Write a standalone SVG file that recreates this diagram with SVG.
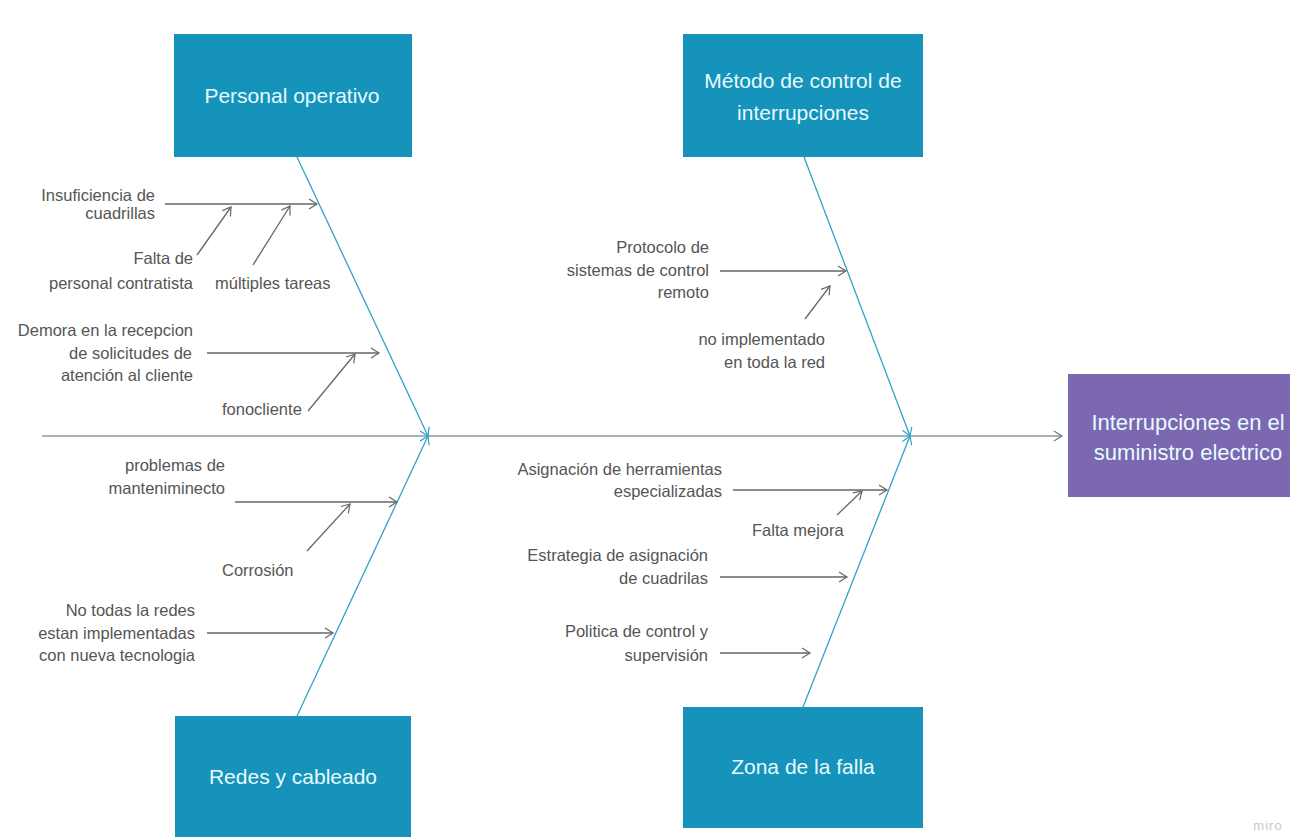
<svg xmlns="http://www.w3.org/2000/svg" width="1290" height="837" viewBox="0 0 1290 837">
<style>
.box{fill:#1593ba}
.eff{fill:#7c68b0}
.bt{font-family:"Liberation Sans",Arial,sans-serif;font-size:21px;fill:#e6fbff;text-anchor:middle}
.t{font-family:"Liberation Sans",Arial,sans-serif;font-size:16.5px;fill:#555}
.r{text-anchor:end}
.bone{stroke:#2fa3c8;stroke-width:1.3;fill:none}
.sub{stroke:#666;stroke-width:1.3;fill:none}
</style>
<defs>
<marker id="ab" markerUnits="userSpaceOnUse" markerWidth="14" markerHeight="14" refX="10" refY="6" orient="auto"><path d="M2,1 L10,6 L2,11" fill="none" stroke="#2fa3c8" stroke-width="1.2"/></marker>
<marker id="as" markerUnits="userSpaceOnUse" markerWidth="14" markerHeight="14" refX="10" refY="6" orient="auto"><path d="M2,1 L10,6 L2,11" fill="none" stroke="#666" stroke-width="1.2"/></marker>
<marker id="am" markerUnits="userSpaceOnUse" markerWidth="14" markerHeight="14" refX="10" refY="6" orient="auto"><path d="M2,1 L10,6 L2,11" fill="none" stroke="#777" stroke-width="1.2"/></marker>
</defs>
<rect width="1290" height="837" fill="#fff"/>
<g id="connectors">
<line x1="42" y1="436" x2="1062" y2="436" stroke="#8a9aa6" stroke-width="1.5" marker-end="url(#am)"/>
<line class="bone" x1="297" y1="157" x2="428" y2="436" marker-end="url(#ab)"/>
<line class="bone" x1="297" y1="716" x2="428" y2="436" marker-end="url(#ab)"/>
<line class="bone" x1="804" y1="157" x2="910" y2="436" marker-end="url(#ab)"/>
<line class="bone" x1="803" y1="707" x2="910" y2="436" marker-end="url(#ab)"/>
<line class="sub" x1="165" y1="204" x2="317" y2="204" marker-end="url(#as)"/>
<line class="sub" x1="197" y1="255" x2="231" y2="207" marker-end="url(#as)"/>
<line class="sub" x1="253" y1="265" x2="290" y2="206" marker-end="url(#as)"/>
<line class="sub" x1="207" y1="353" x2="379" y2="353" marker-end="url(#as)"/>
<line class="sub" x1="308" y1="411" x2="355" y2="354" marker-end="url(#as)"/>
<line class="sub" x1="720" y1="271" x2="846" y2="271" marker-end="url(#as)"/>
<line class="sub" x1="805" y1="319" x2="830" y2="286" marker-end="url(#as)"/>
<line class="sub" x1="235" y1="502" x2="397" y2="502" marker-end="url(#as)"/>
<line class="sub" x1="307" y1="551" x2="350" y2="504" marker-end="url(#as)"/>
<line class="sub" x1="207" y1="633" x2="333" y2="633" marker-end="url(#as)"/>
<line class="sub" x1="733" y1="490" x2="887" y2="490" marker-end="url(#as)"/>
<line class="sub" x1="837" y1="515" x2="862" y2="491" marker-end="url(#as)"/>
<line class="sub" x1="720" y1="577" x2="847" y2="577" marker-end="url(#as)"/>
<line class="sub" x1="720" y1="653" x2="810" y2="653" marker-end="url(#as)"/>
</g>
<g id="personal">
<rect class="box" x="174" y="34" width="238" height="123"/>
<text class="bt" x="292" y="103">Personal operativo</text>
</g>
<g id="metodo">
<rect class="box" x="683" y="34" width="240" height="123"/>
<text class="bt" x="803" y="88">Método de control de</text>
<text class="bt" x="803" y="120">interrupciones</text>
</g>
<g id="redes">
<rect class="box" x="175" y="716" width="236" height="121"/>
<text class="bt" x="293" y="784">Redes y cableado</text>
</g>
<g id="zona">
<rect class="box" x="683" y="707" width="240" height="121"/>
<text class="bt" x="803" y="774">Zona de la falla</text>
</g>
<g id="efecto">
<rect class="eff" x="1068" y="374" width="222" height="123"/>
<text class="bt" x="1188" y="430" style="font-size:22px" fill="#f2eeff">Interrupciones en el</text>
<text class="bt" x="1188" y="460" style="font-size:22px" fill="#f2eeff">suministro electrico</text>
</g>
<g id="causas">
<text class="t r" x="155" y="201">Insuficiencia de</text>
<text class="t r" x="155" y="219">cuadrillas</text>
<text class="t r" x="193" y="264">Falta de</text>
<text class="t r" x="193" y="289">personal contratista</text>
<text class="t" x="215" y="289">múltiples tareas</text>
<text class="t r" x="193" y="336">Demora en la recepcion</text>
<text class="t r" x="192" y="359">de solicitudes de</text>
<text class="t r" x="193" y="381">atención al cliente</text>
<text class="t" x="222" y="415">fonocliente</text>
<text class="t r" x="709" y="253">Protocolo de</text>
<text class="t r" x="709" y="276">sistemas de control</text>
<text class="t r" x="709" y="298">remoto</text>
<text class="t r" x="825" y="345">no implementado</text>
<text class="t r" x="825" y="368">en toda la red</text>
<text class="t r" x="225" y="471">problemas de</text>
<text class="t r" x="225" y="494">manteniminecto</text>
<text class="t" x="222" y="576">Corrosión</text>
<text class="t r" x="195" y="616">No todas la redes</text>
<text class="t r" x="195" y="639">estan implementadas</text>
<text class="t r" x="195" y="661">con nueva tecnologia</text>
<text class="t r" x="722" y="475">Asignación de herramientas</text>
<text class="t r" x="722" y="497">especializadas</text>
<text class="t" x="752" y="536">Falta mejora</text>
<text class="t r" x="708" y="561">Estrategia de asignación</text>
<text class="t r" x="708" y="584">de cuadrilas</text>
<text class="t r" x="708" y="637">Politica de control y</text>
<text class="t r" x="708" y="661">supervisión</text>
</g>
<text x="1268" y="830" font-family="'Liberation Sans',Arial,sans-serif" font-size="13" fill="#c8c8c8" text-anchor="middle" letter-spacing="1">miro</text>
</svg>
